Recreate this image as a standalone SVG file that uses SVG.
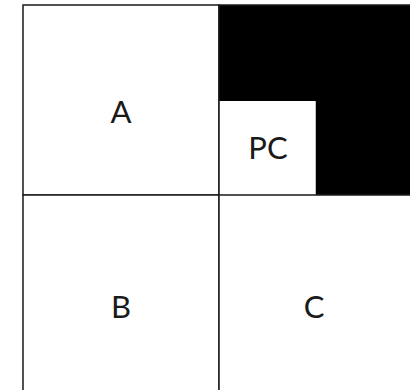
<svg xmlns="http://www.w3.org/2000/svg" width="410" height="390" viewBox="0 0 410 390">
<style>
.cell{fill:#fff;stroke:#1a1a1a;stroke-width:1.5}
.lbl{font-family:Lato,"Open Sans","DejaVu Sans",sans-serif;font-size:31px;fill:#1a1a1a;text-anchor:middle}
</style>
<rect x="0" y="0" width="410" height="390" fill="#fff"/>
<g id="A"><rect class="cell" x="23" y="5" width="196" height="190"/><text class="lbl" x="121" y="123">A</text></g>
<g id="black"><rect x="219" y="5" width="193" height="190" fill="#000" stroke="#1a1a1a" stroke-width="1.5"/></g>
<g id="PC"><rect x="219.75" y="101" width="96" height="94" fill="#fff"/><text class="lbl" x="268" y="159">PC</text></g>
<g id="B"><rect class="cell" x="23" y="195" width="196" height="196"/><text class="lbl" x="121" y="318">B</text></g>
<g id="C"><rect class="cell" x="219" y="195" width="193" height="196"/><text class="lbl" x="314" y="318">C</text></g>
</svg>
